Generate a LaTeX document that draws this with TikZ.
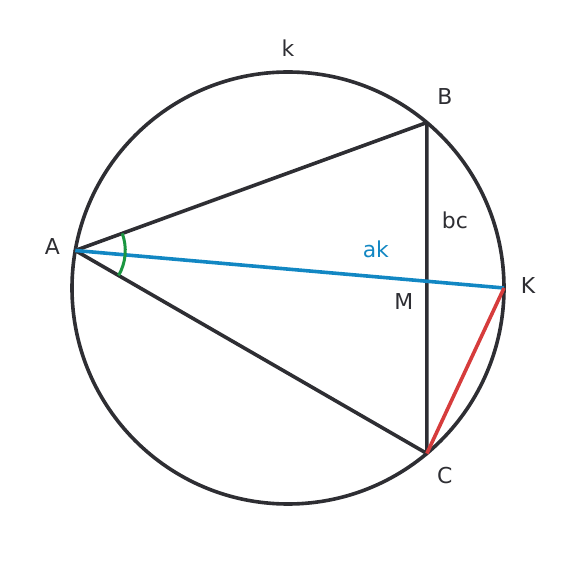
\documentclass[tikz,border=0pt]{standalone}
\usepackage{fontspec}
\setmainfont{DejaVu Sans}
\usetikzlibrary{positioning}
\definecolor{ink}{HTML}{2E2E33}
\definecolor{akblue}{HTML}{1287C3}
\definecolor{kcred}{HTML}{D63C3C}
\definecolor{anggreen}{HTML}{1A9640}
\tikzstyle{edge} = [draw=ink, line width=3.6bp, line join=round]
\tikzstyle{chord} = [line width=3.6bp]
\tikzstyle{angmark} = [draw=anggreen, line width=3bp]
\tikzstyle{lbl} = [text=ink, font=\fontsize{22}{26}\selectfont, inner sep=0pt]

\begin{document}
\begin{tikzpicture}[x=1bp, y=1bp]
				\useasboundingbox (-288,-288) rectangle (288,288);
				\coordinate (O) at (0,0);
				\coordinate (top) at (90:216bp);
				\coordinate (A) at (170:216bp);
				\coordinate (B) at (50:216bp);
				\coordinate (C) at (-50:216bp);
				\coordinate (K) at (0:216bp);
				\coordinate (M) at (intersection of A--K and B--C);
				%----------------------------------------------------%
				\draw[edge] (O) circle (216bp);
				\draw[edge] (A) -- (B) -- (C) -- cycle;
				\draw[chord, draw=akblue] (A) -- (K);
				\draw[chord, draw=kcred] (K) -- (C);
				\draw[angmark] (A) ++(-30:50bp) arc[start angle=-30, end angle=20, radius=50bp];
				%----------------------------------------------------%
				\node(labk) [lbl, above of=top, node distance=24bp] {k};
				\node(labA) [lbl, left of=A, node distance=23bp, yshift=4bp] {A};
				\node(labB) [lbl, right of=B, node distance=18bp, yshift=26bp] {B};
				\node(labC) [lbl, right of=C, node distance=18bp, yshift=-22bp] {C};
				\node(labK) [lbl, right of=K, node distance=24bp, yshift=2bp] {K};
				\node(labM) [lbl, left of=M, node distance=23bp, yshift=-20bp] {M};
				\node(labbc) [lbl, right of=M, node distance=28bp, yshift=61bp] {bc};
				\node(labak) [lbl, left of=M, node distance=51bp, yshift=32bp, text=akblue] {ak};
\end{tikzpicture}
\end{document}
